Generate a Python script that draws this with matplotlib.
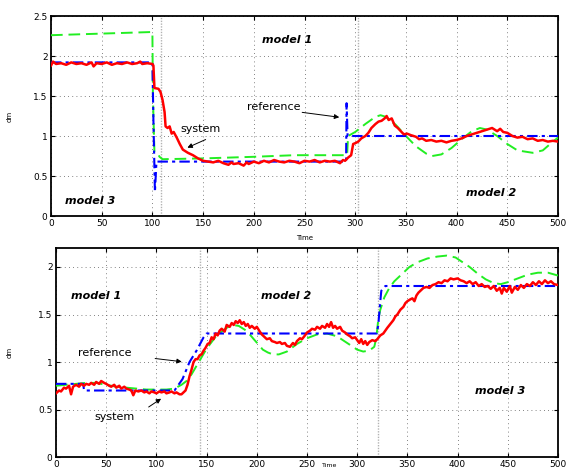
import numpy as np
import matplotlib
matplotlib.use("Agg")
import matplotlib.pyplot as plt

plt.rcParams['font.family'] = ['DejaVu Sans']

# ---------------- top panel data ----------------
top_ref_t = [0, 100, 101, 102.5, 104, 291, 291.5, 292.5, 500]
top_ref_v = [1.92, 1.92, 1.2, 0.30, 0.68, 0.68, 1.41, 1.00, 1.00]

top_mod_t = [0, 50, 100, 100.5, 102, 105, 107, 110, 150, 200, 240, 290, 292,
             293, 300, 310, 320, 325, 330, 340, 350, 360, 370, 376, 385, 395,
             405, 415, 423, 430, 440, 450, 460, 475, 485, 495, 500]
top_mod_v = [2.26, 2.28, 2.30, 1.5, 0.80, 0.79, 0.74, 0.71, 0.72, 0.74, 0.76, 0.76, 0.76,
             1.00, 1.05, 1.15, 1.24, 1.26, 1.24, 1.14, 1.00, 0.87, 0.78, 0.75, 0.77, 0.85,
             0.96, 1.06, 1.10, 1.08, 1.00, 0.90, 0.82, 0.79, 0.82, 0.93, 0.98]

top_sys_t = [0, 2, 5, 10, 15, 20, 25, 30, 35, 40, 42, 45, 50, 55, 60, 65, 70, 75,
             80, 85, 88, 90, 95, 100, 101, 102, 106, 108, 110, 112, 113, 115, 117,
             119, 121, 124, 127, 130, 135, 140, 145, 150, 155, 160, 165, 170, 175,
             178, 180, 185, 190, 193, 195, 200, 205, 210, 215, 220, 225, 230, 235,
             240, 245, 250, 255, 260, 265, 270, 275, 280, 285, 288, 290, 293, 296,
             298, 300, 303, 306, 310, 313, 316, 320, 323, 326, 329, 331, 333, 336,
             339, 342, 345, 348, 351, 355, 360, 363, 366, 370, 375, 380, 385, 390,
             395, 400, 405, 410, 415, 420, 425, 430, 435, 440, 443, 446, 450, 455,
             460, 465, 470, 475, 480, 485, 490, 495, 500]
top_sys_v = [1.88, 1.93, 1.90, 1.91, 1.89, 1.92, 1.90, 1.91, 1.89, 1.92, 1.87, 1.91,
             1.90, 1.92, 1.89, 1.91, 1.90, 1.92, 1.90, 1.91, 1.93, 1.90, 1.91, 1.90,
             1.88, 1.60, 1.59, 1.55, 1.45, 1.30, 1.12, 1.10, 1.12, 1.03, 1.05, 0.98,
             0.90, 0.83, 0.79, 0.76, 0.72, 0.69, 0.68, 0.67, 0.69, 0.66, 0.64, 0.67,
             0.65, 0.66, 0.63, 0.67, 0.65, 0.68, 0.66, 0.69, 0.67, 0.70, 0.68, 0.67,
             0.69, 0.68, 0.66, 0.69, 0.68, 0.70, 0.67, 0.69, 0.68, 0.69, 0.66, 0.70,
             0.69, 0.73, 0.76, 0.90, 0.91, 0.93, 0.97, 1.00, 1.04, 1.10, 1.15, 1.18,
             1.19, 1.22, 1.25, 1.20, 1.22, 1.13, 1.10, 1.06, 1.02, 1.03, 1.01, 0.99,
             0.96, 0.97, 0.94, 0.95, 0.93, 0.94, 0.92, 0.94, 0.95, 0.97, 1.00, 1.02,
             1.04, 1.06, 1.08, 1.10, 1.06, 1.09, 1.05, 1.04, 1.00, 0.98, 0.99, 0.96,
             0.97, 0.94, 0.95, 0.93, 0.94, 0.93]

# ---------------- bottom panel data ----------------
bot_ref_t = [0, 27, 28, 118, 126, 133, 140, 147, 150, 319.5, 321, 322.5, 324, 328, 500]
bot_ref_v = [0.77, 0.77, 0.70, 0.70, 0.82, 1.00, 1.12, 1.26, 1.30, 1.30, 1.39, 1.58, 1.75, 1.80, 1.80]

bot_mod_t = [0, 10, 20, 30, 40, 50, 60, 70, 80, 90, 100, 110, 118, 125, 130, 135,
             140, 145, 150, 155, 160, 165, 170, 176, 182, 188, 193, 197, 202, 206,
             211, 216, 222, 230, 240, 250, 260, 270, 280, 290, 300, 306, 312, 317,
             319, 321, 323, 327, 332, 337, 345, 352, 360, 370, 380, 389, 398, 405,
             412, 420, 428, 436, 443, 450, 460, 470, 480, 490, 500]
bot_mod_v = [0.75, 0.76, 0.77, 0.78, 0.78, 0.76, 0.74, 0.73, 0.72, 0.71, 0.71, 0.71,
             0.72, 0.76, 0.80, 0.87, 0.96, 1.05, 1.14, 1.21, 1.28, 1.32, 1.36, 1.39,
             1.38, 1.34, 1.29, 1.24, 1.18, 1.13, 1.10, 1.08, 1.08, 1.11, 1.19, 1.25,
             1.29, 1.30, 1.27, 1.20, 1.13, 1.11, 1.12, 1.16, 1.25, 1.45, 1.55, 1.68,
             1.78, 1.85, 1.93, 2.00, 2.05, 2.09, 2.11, 2.12, 2.10, 2.05, 2.00, 1.93,
             1.87, 1.83, 1.82, 1.84, 1.88, 1.92, 1.94, 1.94, 1.91]

bot_sys_t = [0, 3, 5, 8, 10, 13, 15, 17, 20, 23, 25, 28, 30, 33, 35, 38, 40, 43, 45,
             48, 50, 53, 55, 58, 60, 63, 65, 68, 70, 73, 75, 77, 79, 82, 85, 88, 90,
             93, 95, 98, 100, 103, 105, 108, 110, 113, 115, 118, 120, 123, 125, 127,
             129, 131, 133, 135, 137, 139, 141, 143, 145, 147, 149, 151, 153, 155,
             157, 159, 161, 163, 165, 168, 170, 173, 175, 177, 179, 181, 183, 185,
             187, 189, 191, 193, 195, 198, 200, 203, 205, 207, 210, 213, 215, 218,
             220, 223, 225, 228, 230, 233, 236, 238, 240, 243, 245, 248, 250, 253,
             255, 258, 260, 263, 265, 268, 270, 272, 274, 276, 278, 280, 283, 285,
             288, 290, 293, 295, 298, 300, 302, 304, 306, 308, 310, 312, 315, 318,
             320, 323, 326, 328, 330, 333, 336, 338, 340, 343, 346, 348, 350, 353,
             355, 357, 359, 361, 363, 366, 369, 372, 375, 378, 381, 384, 387, 390,
             393, 396, 400, 403, 406, 409, 412, 415, 418, 421, 424, 427, 430, 433,
             436, 439, 442, 444, 446, 449, 452, 454, 457, 460, 463, 466, 469, 472,
             475, 478, 481, 484, 487, 490, 493, 496, 500]
bot_sys_v = [0.67, 0.70, 0.69, 0.73, 0.72, 0.75, 0.66, 0.74, 0.76, 0.74, 0.77, 0.75,
             0.77, 0.76, 0.78, 0.76, 0.79, 0.77, 0.80, 0.78, 0.77, 0.75, 0.74, 0.76,
             0.73, 0.75, 0.72, 0.74, 0.72, 0.71, 0.70, 0.65, 0.70, 0.69, 0.70, 0.68,
             0.69, 0.67, 0.69, 0.68, 0.67, 0.69, 0.68, 0.69, 0.67, 0.68, 0.69, 0.67,
             0.68, 0.66, 0.66, 0.68, 0.70, 0.76, 0.85, 0.92, 1.00, 1.03, 1.03, 1.07,
             1.08, 1.12, 1.15, 1.19, 1.20, 1.26, 1.24, 1.30, 1.28, 1.33, 1.35, 1.32,
             1.39, 1.37, 1.41, 1.39, 1.43, 1.41, 1.44, 1.40, 1.42, 1.38, 1.40, 1.36,
             1.38, 1.35, 1.37, 1.32, 1.29, 1.27, 1.24, 1.25, 1.22, 1.21, 1.20, 1.21,
             1.19, 1.20, 1.17, 1.16, 1.20, 1.18, 1.22, 1.25, 1.24, 1.28, 1.31, 1.33,
             1.35, 1.34, 1.37, 1.35, 1.38, 1.36, 1.40, 1.37, 1.42, 1.36, 1.38, 1.35,
             1.37, 1.33, 1.31, 1.29, 1.27, 1.25, 1.26, 1.23, 1.20, 1.24, 1.19, 1.22,
             1.18, 1.21, 1.23, 1.22, 1.24, 1.28, 1.30, 1.33, 1.36, 1.40, 1.44, 1.48,
             1.50, 1.55, 1.58, 1.62, 1.64, 1.66, 1.67, 1.64, 1.70, 1.73, 1.75, 1.78,
             1.79, 1.78, 1.81, 1.82, 1.84, 1.83, 1.86, 1.85, 1.88, 1.87, 1.88, 1.86,
             1.85, 1.83, 1.85, 1.82, 1.84, 1.80, 1.82, 1.79, 1.80, 1.77, 1.80, 1.75,
             1.78, 1.72, 1.78, 1.74, 1.80, 1.73, 1.79, 1.76, 1.81, 1.78, 1.82, 1.80,
             1.84, 1.81, 1.85, 1.82, 1.86, 1.83, 1.85, 1.82, 1.81]

x_ticks = [0, 50, 100, 150, 200, 250, 300, 350, 400, 450, 500]
top_yticks = [0, 0.5, 1, 1.5, 2, 2.5]
top_ylabels = ['0', '0.5', '1', '1.5', '2', '2.5']
bot_yticks = [0, 0.5, 1, 1.5, 2]
bot_ylabels = ['0', '0.5', '1', '1.5', '2']
top_switch = [108, 303]
bot_switch = [143, 321]

RED = '#ff0000'
GREEN = '#22ee22'
BLUE = '#0000ff'

fig = plt.figure(figsize=(5.66, 4.69), dpi=100)
ax1 = fig.add_axes([51/566, 1-216/469, 507/566, 200/469])
ax2 = fig.add_axes([56/566, 1-457/469, 502/566, 209/469])


def style(ax, yt, yl, ymax, switches):
    ax.set_xlim(0, 500)
    ax.set_ylim(0, ymax)
    ax.set_xticks(x_ticks)
    ax.set_xticklabels([str(v) for v in x_ticks])
    ax.set_yticks(yt)
    ax.set_yticklabels(yl)
    ax.grid(True, color='0.35', linestyle=(0, (1, 4)), linewidth=0.6)
    for s in switches:
        ax.axvline(s, color='0.7', linestyle=(0, (1, 1)), linewidth=1.0, zorder=1)
    ax.tick_params(direction='in', top=True, right=True, length=3, width=0.8,
                   labelsize=6.5, pad=2.5)
    for sp in ax.spines.values():
        sp.set_linewidth(1.3)
    ax.set_ylabel('dm', fontsize=5)


# top
style(ax1, top_yticks, top_ylabels, 2.5, top_switch)
ax1.set_xlabel('Time', fontsize=5)
ax1.plot(top_mod_t, top_mod_v, color=GREEN, linestyle=(0, (6, 3)), linewidth=1.4, zorder=3)
ax1.plot(top_ref_t, top_ref_v, color=BLUE, linestyle=(0, (5, 2, 1.5, 2)), linewidth=1.5, zorder=4)
ax1.plot(top_sys_t, top_sys_v, color=RED, linewidth=1.8, zorder=5)
ax1.yaxis.set_label_coords(-0.075, 0.5)
ax1.xaxis.set_label_coords(0.5, -0.095)

bi = dict(fontsize=8, fontweight='bold', fontstyle='italic')
ax1.text(208, 2.2, 'model 1', va='center', **bi)
ax1.text(14, 0.19, 'model 3', va='center', **bi)
ax1.text(409, 0.29, 'model 2', va='center', **bi)
ax1.text(193, 1.36, 'reference', fontsize=8, va='center')
ax1.annotate('', xy=(287, 1.23), xytext=(245, 1.30),
             arrowprops=dict(arrowstyle='-|>', color='k', lw=0.7, mutation_scale=7))
ax1.text(128, 1.09, 'system', fontsize=8, va='center')
ax1.annotate('', xy=(132, 0.84), xytext=(155, 0.97),
             arrowprops=dict(arrowstyle='-|>', color='k', lw=0.7, mutation_scale=7))

# bottom
style(ax2, bot_yticks, bot_ylabels, 2.2, bot_switch)
ax2.plot(bot_mod_t, bot_mod_v, color=GREEN, linestyle=(0, (6, 3)), linewidth=1.4, zorder=3)
ax2.plot(bot_ref_t, bot_ref_v, color=BLUE, linestyle=(0, (5, 2, 1.5, 2)), linewidth=1.5, zorder=4)
ax2.plot(bot_sys_t, bot_sys_v, color=RED, linewidth=1.8, zorder=5)
ax2.yaxis.set_label_coords(-0.086, 0.5)
# 'Time' of the lower panel: no room below the tick labels, so put it just beside them
fig.text(322/566, 1/469, 'Time', fontsize=4.5, ha='left', va='bottom')

ax2.text(15, 1.69, 'model 1', va='center', **bi)
ax2.text(204, 1.69, 'model 2', va='center', **bi)
ax2.text(417, 0.70, 'model 3', va='center', **bi)
ax2.text(22, 1.09, 'reference', fontsize=8, va='center')
ax2.annotate('', xy=(128, 1.0), xytext=(96, 1.04),
             arrowprops=dict(arrowstyle='-|>', color='k', lw=0.7, mutation_scale=7))
ax2.text(38, 0.42, 'system', fontsize=8, va='center')
ax2.annotate('', xy=(107, 0.63), xytext=(90, 0.51),
             arrowprops=dict(arrowstyle='-|>', color='k', lw=0.7, mutation_scale=7))

fig.savefig('out.png', dpi=100)
